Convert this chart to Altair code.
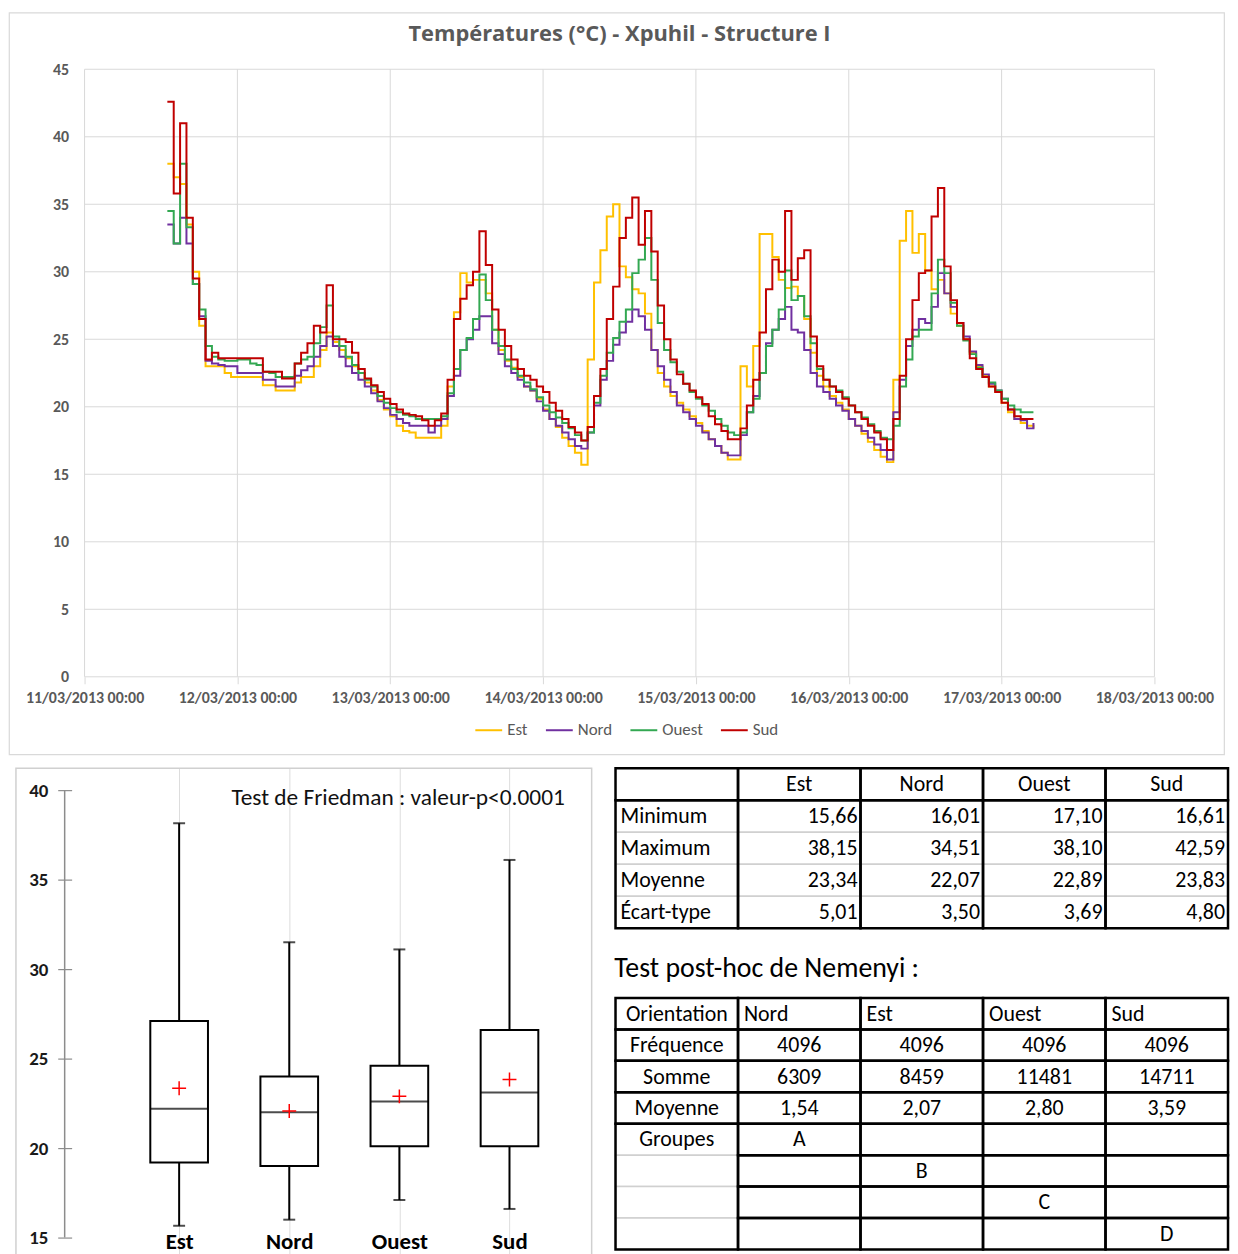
import altair as alt
import pandas as pd

# ---------------------------------------------------------------- data
TITLE = "Températures (°C) - Xpuhil - Structure I"
SERIES = ["Est", "Nord", "Ouest", "Sud"]
COLORS = ["#FFC000", "#7030A0", "#33A852", "#C00000"]
START_HOUR = 13  # first reading 11/03/2013 13:00, one reading per hour

EST = [
    38.0, 37.0, 36.5, 33.5, 30.0, 26.0, 23.0, 23.0, 23.0, 22.5,
    22.2, 22.2, 22.2, 22.2, 22.2, 21.6, 21.6, 21.2, 21.2, 21.2,
    21.8, 22.2, 22.2, 23.0, 24.2, 25.5, 24.8, 24.2, 23.6, 23.0,
    22.5, 21.8, 21.2, 20.5, 19.8, 19.3, 18.6, 18.2, 18.1, 17.7,
    17.7, 17.7, 17.7, 18.6, 21.5, 27.0, 29.9, 29.2, 29.4, 29.4,
    28.4, 25.7, 24.2, 23.4, 22.9, 22.2, 21.5, 21.2, 20.6, 19.8,
    19.1, 18.5, 17.7, 17.1, 16.6, 15.7, 23.5, 29.2, 31.6, 34.1,
    35.0, 30.4, 29.6, 28.7, 28.4, 26.9, 24.2, 22.5, 21.5, 20.8,
    20.3, 19.8, 19.3, 18.8, 18.2, 17.6, 17.1, 16.6, 16.1, 16.1,
    23.0, 21.5, 24.5, 32.8, 32.8, 31.1, 29.4, 28.8, 28.9, 28.2,
    26.5, 24.0, 22.3, 21.5, 20.8, 20.3, 19.8, 19.1, 18.6, 18.0,
    17.4, 16.8, 16.3, 15.9, 22.0, 32.3, 34.5, 31.4, 32.8, 30.1,
    28.7, 29.4, 28.4, 26.9, 26.0, 25.0, 24.0, 23.0, 22.3, 21.5,
    21.1, 20.3, 19.6, 19.1, 18.8, 18.6, 18.4,
]
NORD = [
    33.5, 32.1, 34.0, 32.1, 29.1, 26.7, 23.4, 23.2, 23.1, 23.0,
    23.0, 22.5, 22.5, 22.5, 22.5, 22.0, 22.0, 21.5, 21.5, 21.5,
    22.3, 22.7, 23.0, 23.7, 24.5, 25.2, 24.5, 23.7, 23.0, 22.5,
    22.0, 21.5, 21.0, 20.4, 19.9, 19.4, 19.1, 18.8, 18.6, 18.6,
    18.6, 18.1, 18.6, 19.1, 20.8, 22.3, 24.2, 25.0, 25.7, 26.7,
    26.7, 24.7, 23.9, 23.0, 22.5, 22.0, 21.5, 21.2, 20.4, 19.7,
    19.1, 18.6, 18.1, 17.6, 17.1, 16.9, 18.1, 20.1, 22.0, 23.4,
    24.6, 25.5, 26.3, 27.2, 26.7, 25.7, 24.2, 23.0, 22.0, 21.1,
    20.1, 19.6, 19.1, 18.6, 18.1, 17.6, 17.1, 16.6, 16.4, 16.4,
    17.9, 19.6, 20.8, 22.5, 24.7, 25.7, 26.5, 27.4, 25.7, 25.5,
    24.2, 22.5, 21.5, 21.1, 20.6, 20.1, 19.7, 19.1, 18.6, 18.2,
    17.7, 17.2, 16.8, 16.1, 19.6, 22.0, 24.5, 25.7, 26.5, 26.2,
    27.4, 29.9, 28.4, 27.4, 26.2, 25.2, 24.1, 23.1, 22.4, 21.7,
    21.2, 20.6, 19.8, 19.1, 19.0, 18.4, 18.8,
]
OUEST = [
    34.5, 32.1, 38.0, 33.3, 29.1, 27.2, 24.5, 23.7, 23.5, 23.4,
    23.4, 23.5, 23.5, 23.2, 23.1, 22.6, 22.5, 22.2, 22.2, 22.2,
    23.2, 23.5, 23.7, 24.7, 25.9, 27.5, 25.2, 24.5, 23.7, 23.1,
    22.5, 22.0, 21.5, 20.8, 20.3, 19.9, 19.6, 19.4, 19.3, 19.1,
    19.1, 19.1, 19.1, 19.3, 21.0, 22.8, 24.2, 25.1, 26.5, 29.8,
    27.9, 25.7, 24.5, 23.5, 22.8, 22.3, 21.8, 21.3, 20.7, 20.1,
    19.6, 19.2, 18.8, 18.4, 17.9, 17.5, 18.1, 20.3, 22.3, 24.0,
    25.1, 26.3, 27.2, 29.9, 30.9, 32.5, 29.4, 26.2, 24.2, 23.3,
    22.6, 21.7, 21.1, 20.6, 20.1, 19.7, 19.1, 18.6, 18.1, 17.9,
    18.1, 19.6, 20.6, 22.5, 24.5, 25.7, 27.2, 30.1, 27.9, 28.2,
    26.7, 24.7, 22.8, 22.0, 21.5, 21.2, 20.7, 20.1, 19.6, 19.2,
    18.7, 18.2, 17.7, 17.6, 18.6, 21.5, 23.5, 25.2, 25.7, 25.7,
    28.4, 30.9, 29.9, 27.7, 26.0, 24.9, 23.9, 22.9, 22.2, 21.8,
    21.2, 20.6, 20.1, 19.8, 19.6, 19.6, 19.6,
]
SUD = [
    42.6, 35.8, 41.0, 34.0, 29.5, 26.5, 23.5, 24.0, 23.6, 23.6,
    23.6, 23.6, 23.6, 23.6, 23.6, 22.6, 22.6, 22.6, 22.1, 22.1,
    23.2, 24.0, 24.7, 26.0, 25.5, 29.0, 25.0, 25.0, 24.8, 24.0,
    22.8, 22.1, 21.6, 21.1, 20.6, 20.2, 19.8, 19.5, 19.4, 19.3,
    19.0, 18.6, 19.0, 19.5, 22.0, 26.5, 28.0, 29.0, 30.0, 33.0,
    30.5, 27.2, 25.7, 24.5, 23.5, 22.8, 22.3, 22.0, 21.5, 21.1,
    20.3, 19.7, 19.1, 18.5, 18.1, 17.5, 18.5, 20.8, 22.8, 26.5,
    28.9, 32.5, 34.0, 35.5, 32.0, 34.5, 31.5, 27.5, 25.0, 23.5,
    22.4, 21.7, 21.2, 20.7, 20.2, 19.3, 18.7, 18.2, 17.6, 17.6,
    18.4, 20.1, 22.0, 25.5, 28.7, 30.9, 30.0, 34.5, 29.4, 31.0,
    31.6, 25.2, 23.0, 22.0, 21.5, 21.1, 20.6, 20.1, 19.6, 19.1,
    18.6, 18.1, 17.6, 16.8, 19.1, 22.3, 25.0, 27.9, 29.9, 30.1,
    34.1, 36.2, 30.4, 27.9, 26.2, 25.0, 23.6, 22.8, 22.2, 21.5,
    21.1, 20.3, 19.8, 19.3, 19.1, 19.1, 19.1,
]

X_TICKS = [0, 24, 48, 72, 96, 120, 144, 168]
X_LABELS = ["11/03/2013 00:00", "12/03/2013 00:00", "13/03/2013 00:00",
            "14/03/2013 00:00", "15/03/2013 00:00", "16/03/2013 00:00",
            "17/03/2013 00:00", "18/03/2013 00:00"]
Y_TICKS = [0, 5, 10, 15, 20, 25, 30, 35, 40, 45]

BOX_CATS = ["Est", "Nord", "Ouest", "Sud"]
BOX_LOW = [15.66, 16.0, 17.1, 16.6]
BOX_Q1 = [19.2, 19.0, 20.1, 20.1]
BOX_MED = [22.2, 22.0, 22.6, 23.1]
BOX_Q3 = [27.1, 24.0, 24.6, 26.6]
BOX_HIGH = [38.15, 31.5, 31.1, 36.1]
BOX_MEAN = [23.34, 22.07, 22.89, 23.83]
BOX_TICKS = [15, 20, 25, 30, 35, 40]
FRIEDMAN = "Test de Friedman : valeur-p<0.0001"

STAT_COLS = ["Est", "Nord", "Ouest", "Sud"]
STAT_ROWS = ["Minimum", "Maximum", "Moyenne", "Écart-type"]
STAT_MIN = [15.66, 16.01, 17.10, 16.61]
STAT_MAX = [38.15, 34.51, 38.10, 42.59]
STAT_MEAN = [23.34, 22.07, 22.89, 23.83]
STAT_SD = [5.01, 3.50, 3.69, 4.80]

NEMENYI_TITLE = "Test post-hoc de Nemenyi :"
NEM_HEAD = "Orientation"
NEM_COLS = ["Nord", "Est", "Ouest", "Sud"]
NEM_ROWS = ["Fréquence", "Somme", "Moyenne"]
NEM_FREQ = [4096, 4096, 4096, 4096]
NEM_SUM = [6309, 8459, 11481, 14711]
NEM_MEAN = [1.54, 2.07, 2.80, 3.59]
NEM_GROUP_LABEL = "Groupes"
NEM_GROUPS = ["A", "B", "C", "D"]

# ---------------------------------------------------------------- styles
FONT = "Carlito, Calibri, Lato, sans-serif"
GRID = "#d9d9d9"
AXIS_TXT = "#595959"
LIGHT = "#d0d0d0"


def fr(v, d=2):
    return f"{v:.{d}f}".replace(".", ",")


# ---------------------------------------------------------------- top chart
FRAME_W, FRAME_H = 1222, 746
PLOT_X0, PLOT_X1 = 76, 1152      # pixel position of first / last x tick in frame
PLOT_Y0, PLOT_YT = 668, 57       # pixel position of 0 and 45
px_h = (PLOT_X1 - PLOT_X0) / (X_TICKS[-1] - X_TICKS[0])
px_t = (PLOT_Y0 - PLOT_YT) / (Y_TICKS[-1] - Y_TICKS[0])
x_dom = [X_TICKS[0] - PLOT_X0 / px_h, X_TICKS[-1] + (FRAME_W - PLOT_X1) / px_h]
y_dom = [Y_TICKS[0] - (FRAME_H - PLOT_Y0) / px_t, Y_TICKS[-1] + PLOT_YT / px_t]

xs = alt.Scale(domain=x_dom, nice=False, zero=False)
ys = alt.Scale(domain=y_dom, nice=False, zero=False)

rows = []
for name, vals in zip(SERIES, [EST, NORD, OUEST, SUD]):
    for i, v in enumerate(vals):
        rows.append({"serie": name, "h": START_HOUR + i, "temp": v})
lines_df = pd.DataFrame(rows)

label_expr = "[" + ",".join(f"'{l}'" for l in X_LABELS) + "][round(datum.value / 24)]"
x_axis = alt.Axis(values=X_TICKS, labelExpr=label_expr, orient="bottom",
                  offset=-(FRAME_H - PLOT_Y0), domain=False, grid=False,
                  ticks=True, tickSize=7, tickColor=GRID, labelPadding=14,
                  labelBaseline="middle", labelFont=FONT, labelFontSize=16,
                  labelFontWeight="bold", labelColor=AXIS_TXT, title=None,
                  labelOverlap=False, labelFlush=False)
y_axis = alt.Axis(values=Y_TICKS, orient="left", offset=-PLOT_X0, domain=False,
                  grid=False, ticks=True, tickSize=0, labelPadding=16, format="d",
                  labelFont=FONT, labelFontSize=16, labelFontWeight="bold",
                  labelColor=AXIS_TXT, title=None, labelOverlap=False)

X_ENC = alt.X("h:Q", scale=xs, axis=x_axis, title=None)
Y_ENC = alt.Y("temp:Q", scale=ys, axis=y_axis, title=None)

hgrid_df = pd.DataFrame({"temp": Y_TICKS, "h": X_TICKS[0], "h2": X_TICKS[-1]})
vgrid_df = pd.DataFrame({"h": X_TICKS, "temp": Y_TICKS[0], "temp2": Y_TICKS[-1]})

hgrid = alt.Chart(hgrid_df).mark_rule(color=GRID, strokeWidth=1).encode(
    x=X_ENC, x2="h2:Q", y=Y_ENC)
vgrid = alt.Chart(vgrid_df).mark_rule(color=GRID, strokeWidth=1).encode(
    x=X_ENC, y=Y_ENC, y2="temp2:Q")

legend = alt.Legend(orient="none", legendX=468, legendY=707, direction="horizontal",
                    title=None, symbolType="stroke", symbolStrokeWidth=2,
                    symbolSize=729, labelFont=FONT, labelFontSize=17,
                    labelColor=AXIS_TXT, columnPadding=14, labelOffset=4, padding=0)

lines = alt.Chart(lines_df).mark_line(strokeWidth=2, interpolate="step-after").encode(
    x=X_ENC, y=Y_ENC,
    color=alt.Color("serie:N", scale=alt.Scale(domain=SERIES, range=COLORS),
                    legend=legend),
)

title_layer = alt.Chart(pd.DataFrame({"t": [TITLE]})).mark_text(
    font="Open Sans", fontSize=22, fontWeight="bold", color=AXIS_TXT,
    align="center", baseline="middle").encode(
    text="t:N", x=alt.value(614), y=alt.value(22))

top = alt.layer(hgrid, vgrid, lines, title_layer).properties(
    width=FRAME_W, height=FRAME_H,
    view=alt.ViewBackground(stroke=GRID, strokeWidth=1.2, fill="white"))

# ---------------------------------------------------------------- box plot
BOX_W, BOX_H = 586, 500
FRAME_LEFT = 7                     # box-plot frame starts 7px right of the top frame
B_TOP_PX, B_BOT_PX = 22, 472       # pixel position of 40 and 15
B_X0, B_STEP = 169, 112.67         # pixel position of first box and spacing
B_AXIS = 56                        # pixel position of the value axis line
px_b = (B_BOT_PX - B_TOP_PX) / (BOX_TICKS[-1] - BOX_TICKS[0])
yb_dom = [BOX_TICKS[0] - (BOX_H - B_BOT_PX) / px_b, BOX_TICKS[-1] + B_TOP_PX / px_b]
xb_dom = [-B_X0 / B_STEP, (BOX_W - B_X0) / B_STEP]
ybs = alt.Scale(domain=yb_dom, nice=False, zero=False)
xbs = alt.Scale(domain=xb_dom, nice=False, zero=False)

box_df = pd.DataFrame({"idx": list(range(len(BOX_CATS))), "cat": BOX_CATS,
                       "lo": BOX_LOW, "q1": BOX_Q1, "med": BOX_MED,
                       "q3": BOX_Q3, "hi": BOX_HIGH, "mean": BOX_MEAN})

cat_expr = "[" + ",".join(f"'{c}'" for c in BOX_CATS) + "][round(datum.value)]"
yb_axis = alt.Axis(values=BOX_TICKS, orient="left", offset=-(B_AXIS + 7), domain=False,
                   grid=False, ticks=True, tickSize=14, tickColor="#8c8c8c",
                   tickWidth=1.2, labelPadding=10, labelFont=FONT, labelFontSize=19,
                   labelFontWeight="bold", labelColor="#1a1a1a", title=None,
                   labelOverlap=False)
xb_axis = alt.Axis(values=list(range(len(BOX_CATS))), labelExpr=cat_expr,
                   orient="bottom", offset=-24, domain=False, ticks=True, tickSize=0,
                   tickOpacity=0, labelPadding=0, labelBaseline="middle",
                   labelFont=FONT, labelFontSize=23, labelFontWeight="bold",
                   labelColor="black", title=None, labelAngle=0,
                   labelOverlap=False, labelFlush=False)


def ybx(field):
    return alt.Y(f"{field}:Q", scale=ybs, axis=yb_axis, title=None)


XB = alt.X("idx:Q", scale=xbs, axis=xb_axis, title=None)

frame = alt.Chart(pd.DataFrame({"f": [0]})).mark_rect(
    fillOpacity=0, stroke=LIGHT, strokeWidth=1.5).encode(
    x=alt.value(FRAME_LEFT), x2=alt.value(BOX_W), y=alt.value(0), y2=alt.value(BOX_H))
whisk_lo = alt.Chart(box_df).mark_rule(color="black", strokeWidth=2).encode(
    x=XB, y=ybx("lo"), y2="q1:Q")
whisk_hi = alt.Chart(box_df).mark_rule(color="black", strokeWidth=2).encode(
    x=XB, y=ybx("q3"), y2="hi:Q")
cap_lo = alt.Chart(box_df).mark_tick(color="black", thickness=2, size=12,
                                     orient="horizontal").encode(x=XB, y=ybx("lo"))
cap_hi = alt.Chart(box_df).mark_tick(color="black", thickness=2, size=12,
                                     orient="horizontal").encode(x=XB, y=ybx("hi"))
boxes = alt.Chart(box_df).mark_bar(size=58, fill="white", stroke="black",
                                   strokeWidth=2).encode(
    x=XB, y=ybx("q1"), y2="q3:Q")
medians = alt.Chart(box_df).mark_tick(color="black", thickness=2, size=58,
                                      orient="horizontal").encode(x=XB, y=ybx("med"))
means = alt.Chart(box_df).mark_point(shape="M-1,0L1,0M0,-1L0,1", size=196,
                                     filled=False, color="#ff0000",
                                     strokeWidth=1.5, opacity=1).encode(
    x=XB, y=ybx("mean"))
axis_line = alt.Chart(pd.DataFrame({"v": [BOX_TICKS[0]], "v2": [BOX_TICKS[-1]]})).mark_rule(
    color="#8c8c8c", strokeWidth=1.5).encode(
    x=alt.value(B_AXIS), y=ybx("v"), y2="v2:Q")
friedman = alt.Chart(pd.DataFrame({"t": [FRIEDMAN]})).mark_text(
    font=FONT, fontSize=23.5, color="#111111", align="right", baseline="middle").encode(
    text="t:N", x=alt.value(559), y=alt.value(30))

box_chart = alt.layer(frame, whisk_lo, whisk_hi, cap_lo, cap_hi, boxes, medians,
                      means, axis_line, friedman).properties(
    width=BOX_W, height=BOX_H,
    view=alt.ViewBackground(stroke="transparent", fill="white"))

# ---------------------------------------------------------------- tables
T_W = 616
TXT = dict(font=FONT, fontSize=22, color="black", baseline="middle")


def rect_layer(df, sx, sy, stroke, sw, filled):
    if filled:
        m = alt.Chart(df).mark_rect(fill="white", stroke=stroke, strokeWidth=sw)
    else:
        m = alt.Chart(df).mark_rect(fillOpacity=0, stroke=stroke, strokeWidth=sw)
    return m.encode(x=alt.X("c0:Q", scale=sx, axis=None), x2="c1:Q",
                    y=alt.Y("r0:Q", scale=sy, axis=None), y2="r1:Q")


def text_layer(df, sx, sy, align, dx):
    return alt.Chart(df).mark_text(align=align, dx=dx, **TXT).encode(
        x=alt.X("tx:Q", scale=sx, axis=None), y=alt.Y("ty:Q", scale=sy, axis=None),
        text="s:N")


def cells(coords):
    return pd.DataFrame([{"c0": c, "c1": c + 1, "r0": r0, "r1": r1} for c, r0, r1 in coords])


# table 1 : descriptive statistics
n1 = 1 + len(STAT_ROWS)
sx1 = alt.Scale(domain=[0, 1 + len(STAT_COLS)], nice=False, zero=False)
sy1 = alt.Scale(domain=[0, n1], nice=False, zero=False, reverse=True)
t1_grey = cells([(c, r, r + 1) for c in range(1 + len(STAT_COLS)) for r in range(1, n1)])
t1_head = cells([(c, 0, 1) for c in range(1 + len(STAT_COLS))])
t1_cols = cells([(c, 1, n1) for c in range(1 + len(STAT_COLS))])
t1_htxt = pd.DataFrame([{"tx": c + 1.5, "ty": 0.5, "s": s} for c, s in enumerate(STAT_COLS)])
t1_ltxt = pd.DataFrame([{"tx": 0, "ty": r + 1.5, "s": s} for r, s in enumerate(STAT_ROWS)])
vals = []
for r, arr in enumerate([STAT_MIN, STAT_MAX, STAT_MEAN, STAT_SD]):
    for c, v in enumerate(arr):
        vals.append({"tx": c + 2, "ty": r + 1.5, "s": fr(v)})
t1_vtxt = pd.DataFrame(vals)

table1 = alt.layer(
    rect_layer(t1_grey, sx1, sy1, LIGHT, 1.5, True),
    rect_layer(t1_cols, sx1, sy1, "black", 2.5, False),
    rect_layer(t1_head, sx1, sy1, "black", 2.5, False),
    text_layer(t1_htxt, sx1, sy1, "center", 0),
    text_layer(t1_ltxt, sx1, sy1, "left", 5),
    text_layer(t1_vtxt, sx1, sy1, "right", -3),
).properties(width=T_W, height=161)

# table 2 : Nemenyi
n2 = 1 + len(NEM_ROWS) + len(NEM_GROUPS)
g0 = 1 + len(NEM_ROWS)
sx2 = alt.Scale(domain=[0, 1 + len(NEM_COLS)], nice=False, zero=False)
sy2 = alt.Scale(domain=[0, n2], nice=False, zero=False, reverse=True)
t2_grey = cells([(0, r, r + 1) for r in range(g0, n2)])
t2_black = cells([(c, r, r + 1) for c in range(1, 1 + len(NEM_COLS)) for r in range(n2)]
                 + [(0, r, r + 1) for r in range(g0)] + [(0, g0, n2)])
t2_head_c = pd.DataFrame([{"tx": 0.5, "ty": 0.5, "s": NEM_HEAD}])
t2_head_l = pd.DataFrame([{"tx": c + 1, "ty": 0.5, "s": s} for c, s in enumerate(NEM_COLS)])
cen = [{"tx": 0.5, "ty": r + 1.5, "s": s} for r, s in enumerate(NEM_ROWS)]
cen.append({"tx": 0.5, "ty": g0 + 0.5, "s": NEM_GROUP_LABEL})
for r, arr in enumerate([[str(v) for v in NEM_FREQ], [str(v) for v in NEM_SUM],
                         [fr(v) for v in NEM_MEAN]]):
    for c, s in enumerate(arr):
        cen.append({"tx": c + 1.5, "ty": r + 1.5, "s": s})
for k, g in enumerate(NEM_GROUPS):
    cen.append({"tx": k + 1.5, "ty": g0 + k + 0.5, "s": g})
t2_ctxt = pd.DataFrame(cen)

table2 = alt.layer(
    rect_layer(t2_grey, sx2, sy2, LIGHT, 1.5, True),
    rect_layer(t2_black, sx2, sy2, "black", 2.5, False),
    text_layer(t2_head_c, sx2, sy2, "center", 0),
    text_layer(t2_head_l, sx2, sy2, "left", 6),
    text_layer(t2_ctxt, sx2, sy2, "center", 0),
).properties(
    width=T_W, height=253,
    title=alt.TitleParams(NEMENYI_TITLE, anchor="start", font=FONT, fontSize=28,
                          fontWeight="normal", color="black", offset=14))

tables = alt.vconcat(table1, table2, spacing=24)

bottom = alt.hconcat(box_chart, tables, spacing=20)

chart = alt.vconcat(top, bottom, spacing=11).properties(
    padding=0, background="white"
).configure_view(stroke="transparent")

chart.save("out.html", embed_options={"renderer": "svg", "actions": False})
